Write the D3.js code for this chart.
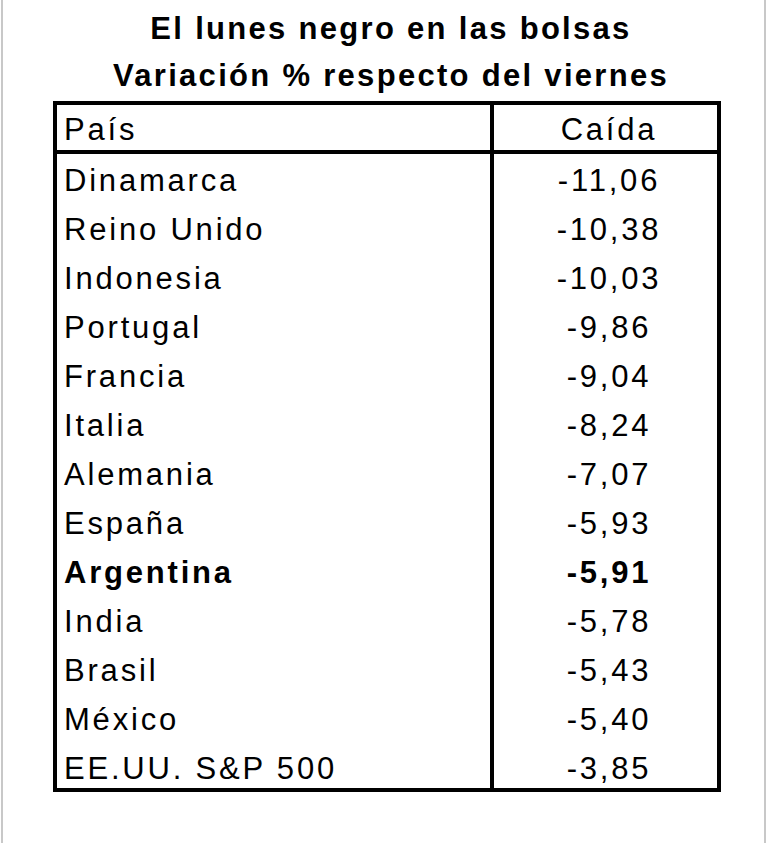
<!DOCTYPE html><html><head><meta charset="utf-8"><script src="https://cdn.jsdelivr.net/npm/d3@7"></script>
<style>body{margin:0;background:#fff}</style></head><body><script>
const titles=["El lunes negro en las bolsas","Variación % respecto del viernes"];
const headers=["País","Caída"];
const countries=["Dinamarca","Reino Unido","Indonesia","Portugal","Francia","Italia","Alemania","España","Argentina","India","Brasil","México","EE.UU. S&P 500"];
const values=[-11.06,-10.38,-10.03,-9.86,-9.04,-8.24,-7.07,-5.93,-5.91,-5.78,-5.43,-5.40,-3.85];
const boldRow="Argentina";
const W=768,H=843;
const svg=d3.select("body").append("svg").attr("width",W).attr("height",H);
svg.append("rect").attr("x",0).attr("y",0).attr("width",W).attr("height",H).attr("fill","#fff");
svg.append("line").attr("x1",2).attr("x2",2).attr("y1",0).attr("y2",H).attr("stroke","#c8c8c8").attr("stroke-width",2);
svg.append("line").attr("x1",765).attr("x2",765).attr("y1",0).attr("y2",H).attr("stroke","#c8c8c8").attr("stroke-width",2);
const font="Liberation Sans, Arial, sans-serif";
svg.selectAll(".t").data(titles).join("text").attr("x",391).attr("y",(d,i)=>39+i*47)
 .attr("text-anchor","middle").attr("font-family",font).attr("font-weight","bold").attr("font-size",31).attr("letter-spacing",2.3).text(d=>d);
const L=55,R=719,T=103,HB=152,B=790,C=492;
const y=d3.scaleBand().domain(countries).range([HB,B]);
const g=svg.append("g");
g.append("rect").attr("x",L).attr("y",T).attr("width",R-L).attr("height",B-T).attr("fill","none").attr("stroke","#000").attr("stroke-width",4);
g.append("line").attr("x1",L).attr("x2",R).attr("y1",HB).attr("y2",HB).attr("stroke","#000").attr("stroke-width",4);
g.append("line").attr("x1",C).attr("x2",C).attr("y1",T).attr("y2",B).attr("stroke","#000").attr("stroke-width",4);
const fs=31, ls=2.8;
g.append("text").attr("x",64).attr("y",140).attr("font-family",font).attr("font-size",fs).attr("letter-spacing",ls).text(headers[0]);
g.append("text").attr("x",609).attr("y",140).attr("text-anchor","middle").attr("font-family",font).attr("font-size",fs).attr("letter-spacing",ls).text(headers[1]);
const fmt=v=>v.toFixed(2).replace(".",",");
const rows=g.selectAll(".r").data(countries).join("g").attr("transform",d=>`translate(0,${y(d)+y.bandwidth()/2+14})`);
rows.append("text").attr("x",64).attr("font-family",font).attr("font-size",fs).attr("letter-spacing",ls)
 .attr("font-weight",d=>d===boldRow?"bold":"normal").text(d=>d);
rows.append("text").attr("x",609).attr("text-anchor","middle").attr("font-family",font).attr("font-size",fs).attr("letter-spacing",ls)
 .attr("font-weight",d=>d===boldRow?"bold":"normal").text((d,i)=>fmt(values[i]));
</script></body></html>
